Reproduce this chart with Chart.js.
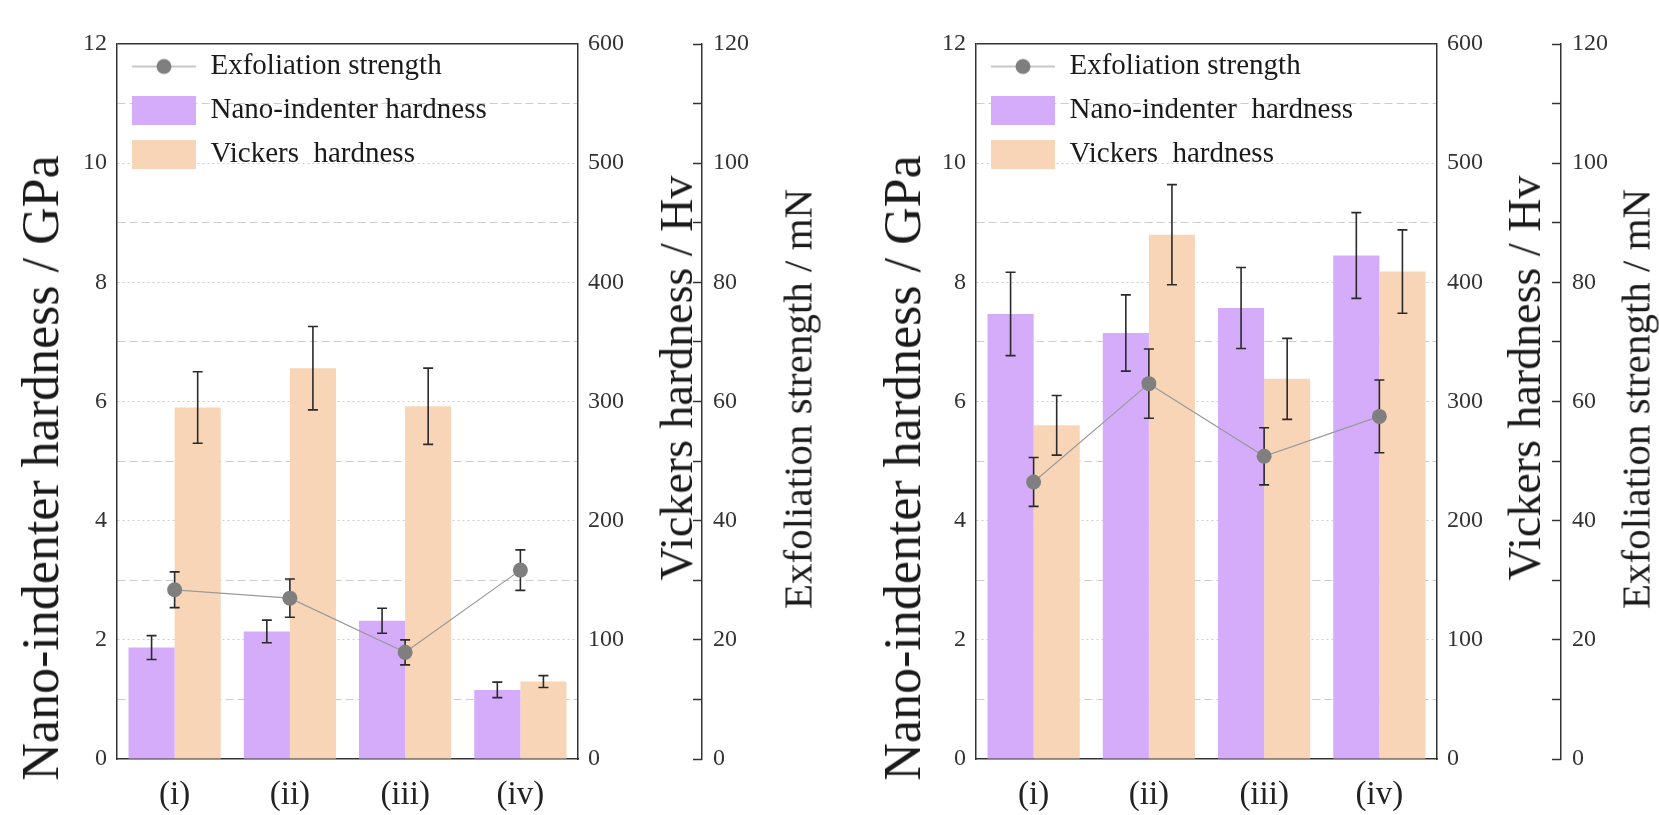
<!DOCTYPE html>
<html lang="en">
<head>
<meta charset="UTF-8">
<title>Hardness and exfoliation strength</title>
<script src="https://cdn.jsdelivr.net/npm/chart.js@4"></script>
<style>
    html, body {
        margin: 0;
        padding: 0;
        background: #ffffff;
    }
    body {
        position: relative;
        width: 1659px;
        height: 815px;
        overflow: hidden;
        font-family: 'Liberation Serif', 'Times New Roman', serif;
    }
    canvas {
        position: absolute;
        top: 0;
    }
    #chartA { left: 0; }
    #chartB { left: 859px; }
    /* rotated axis titles, centre given by left/top */
    .axis-title {
        position: absolute;
        white-space: pre;
        line-height: 1;
        color: #1a1a1a;
        transform: translate(-50%, -50%) rotate(-90deg);
    }
</style>
</head>
<body>
<canvas id="chartA" width="800" height="815"></canvas>
<canvas id="chartB" width="800" height="815"></canvas>

<div class="axis-title" style="left:41px; top:468px; font-size:52px;">Nano-indenter hardness / GPa</div>
<div class="axis-title" style="left:677px; top:378px; font-size:46px;">Vickers hardness / Hv</div>
<div class="axis-title" style="left:798px; top:399px; font-size:41px;">Exfoliation strength / mN</div>
<div class="axis-title" style="left:903px; top:468px; font-size:52px;">Nano-indenter hardness / GPa</div>
<div class="axis-title" style="left:1525px; top:378px; font-size:46px;">Vickers hardness / Hv</div>
<div class="axis-title" style="left:1636px; top:399px; font-size:41px;">Exfoliation strength / mN</div>

<script>
    // categories
    const categories = ['(i)', '(ii)', '(iii)', '(iv)'];

    // left panel
    const nanoA = [1.87, 2.14, 2.32, 1.16];          // GPa
    const nanoErrA = [0.20, 0.19, 0.21, 0.13];
    const vickersA = [295, 328, 296, 65];            // Hv
    const vickersErrA = [30, 35, 32, 5];
    const exfolA = [28.4, 27.0, 17.9, 31.7];         // mN
    const exfolErrA = [3.0, 3.2, 2.1, 3.4];
    const legendA = ['Exfoliation strength', 'Nano-indenter hardness', 'Vickers  hardness'];

    // right panel
    const nanoB = [7.47, 7.15, 7.57, 8.45];
    const nanoErrB = [0.70, 0.64, 0.68, 0.72];
    const vickersB = [280, 440, 319, 409];
    const vickersErrB = [25, 42, 34, 35];
    const exfolB = [46.5, 63.0, 50.8, 57.5];
    const exfolErrB = [4.1, 5.8, 4.8, 6.1];
    const legendB = ['Exfoliation strength', 'Nano-indenter  hardness', 'Vickers  hardness'];

    // axis ranges (min, max, minor step, labelled step)
    const gpaAxis = [0, 12, 1, 2];
    const hvAxis = [0, 600, 50, 100];
    const mnAxis = [0, 120, 10, 20];

    const SERIF = "'Liberation Serif', 'Times New Roman', serif";
    const AXIS_COLOR = '#333333';
    const PURPLE = '#d5acfa';
    const PEACH = '#f8d5b7';

    // legend symbol for the line series: line with a round marker
    function lineIcon() {
        const c = document.createElement('canvas');
        c.width = 64;
        c.height = 18;
        const g = c.getContext('2d');
        g.strokeStyle = '#8f8f8f';
        g.lineWidth = 1.2;
        g.beginPath();
        g.moveTo(0, 9);
        g.lineTo(64, 9);
        g.stroke();
        g.fillStyle = '#7f7f7f';
        g.beginPath();
        g.arc(32, 9, 7.5, 0, Math.PI * 2);
        g.fill();
        return c;
    }
    const exfolIcon = lineIcon();

    // error bars, drawn from the dataset's own scale
    function drawErrors(chart, index) {
        const ds = chart.data.datasets[index];
        if (!ds.errors) return;
        const meta = chart.getDatasetMeta(index);
        const scale = chart.scales[meta.yAxisID];
        const ctx = chart.ctx;
        ctx.save();
        ctx.strokeStyle = '#2a2a2a';
        ctx.lineWidth = 1.6;
        meta.data.forEach((el, j) => {
            const top = scale.getPixelForValue(ds.data[j] + ds.errors[j]);
            const bot = scale.getPixelForValue(ds.data[j] - ds.errors[j]);
            ctx.beginPath();
            ctx.moveTo(el.x, top);
            ctx.lineTo(el.x, bot);
            ctx.moveTo(el.x - 5, top);
            ctx.lineTo(el.x + 5, top);
            ctx.moveTo(el.x - 5, bot);
            ctx.lineTo(el.x + 5, bot);
            ctx.stroke();
        });
        ctx.restore();
    }

    const errorBars = {
        id: 'errorBars',
        beforeDatasetDraw(chart, args) {
            if (chart.data.datasets[args.index].type === 'line') drawErrors(chart, args.index);
        },
        afterDatasetDraw(chart, args) {
            if (chart.data.datasets[args.index].type !== 'line') drawErrors(chart, args.index);
        }
    };

    function tickFont() {
        return { family: SERIF, size: 24 };
    }

    function makeChart(canvasId, nano, nanoErr, vickers, vickersErr, exfol, exfolErr, legendText) {
        const ctx = document.getElementById(canvasId).getContext('2d');
        return new Chart(ctx, {
            type: 'bar',
            data: {
                labels: categories,
                datasets: [
                    {
                        type: 'line',
                        label: legendText[0],
                        data: exfol,
                        errors: exfolErr,
                        yAxisID: 'y2',
                        borderColor: '#9a9a9a',
                        borderWidth: 1.2,
                        pointRadius: 7.5,
                        pointBackgroundColor: '#7f7f7f',
                        pointBorderWidth: 0,
                        order: 0
                    },
                    {
                        label: legendText[1],
                        data: nano,
                        errors: nanoErr,
                        yAxisID: 'y',
                        backgroundColor: PURPLE,
                        categoryPercentage: 0.8,
                        barPercentage: 1.0,
                        order: 1
                    },
                    {
                        label: legendText[2],
                        data: vickers,
                        errors: vickersErr,
                        yAxisID: 'y1',
                        backgroundColor: PEACH,
                        categoryPercentage: 0.8,
                        barPercentage: 1.0,
                        order: 1
                    }
                ]
            },
            options: {
                responsive: false,
                animation: false,
                devicePixelRatio: 1,
                layout: { padding: { top: 44, bottom: 0, left: 0, right: 0 } },
                plugins: {
                    tooltip: { enabled: false },
                    legend: {
                        position: 'chartArea',
                        align: 'start',
                        // empty title only pushes the entries down inside the plot
                        title: {
                            display: true,
                            text: ' ',
                            font: { size: 10, lineHeight: 1 },
                            padding: { top: 13, bottom: 14 }
                        },
                        labels: {
                            usePointStyle: true,
                            pointStyleWidth: 64,
                            boxHeight: 30,
                            padding: 15,
                            color: '#1a1a1a',
                            font: { family: SERIF, size: 29 },
                            generateLabels(chart) {
                                const items = Chart.defaults.plugins.legend.labels.generateLabels(chart);
                                items.forEach(it => {
                                    const ds = chart.data.datasets[it.datasetIndex];
                                    it.pointStyle = ds.type === 'line' ? exfolIcon : 'rect';
                                    it.lineWidth = 0;
                                    it.strokeStyle = 'rgba(0,0,0,0)';
                                    if (ds.type !== 'line') it.fillStyle = ds.backgroundColor;
                                });
                                return items;
                            }
                        }
                    }
                },
                scales: {
                    x: {
                        z: 1,
                        grid: { display: false, drawTicks: false },
                        border: { color: AXIS_COLOR, width: 1.5 },
                        ticks: { font: { family: SERIF, size: 33 }, color: '#222', padding: 17 },
                        afterFit: s => { s.height = 56; }
                    },
                    y: {
                        position: 'left',
                        min: gpaAxis[0],
                        max: gpaAxis[1],
                        ticks: {
                            stepSize: gpaAxis[2],
                            autoSkip: false,
                            padding: 10,
                            color: AXIS_COLOR,
                            font: tickFont(),
                            callback: v => (v % gpaAxis[3] === 0 ? v : '')
                        },
                        grid: {
                            drawTicks: false,
                            color: c => {
                                if (!c.tick) return '#cccccc';
                                if (c.tick.value === gpaAxis[1]) return AXIS_COLOR;
                                if (c.tick.value === 0) return 'rgba(0,0,0,0)';
                                return '#cdcdcd';
                            },
                            lineWidth: c => (c.tick && c.tick.value === gpaAxis[1] ? 1.5 : 1)
                        },
                        border: {
                            color: AXIS_COLOR,
                            width: 1.5,
                            dash: c => {
                                if (!c.tick || c.tick.value === gpaAxis[1]) return [];
                                return c.tick.value % 2 ? [8, 4] : [2, 3];
                            }
                        },
                        afterFit: s => { s.width = 117; }
                    },
                    y1: {
                        position: 'right',
                        min: hvAxis[0],
                        max: hvAxis[1],
                        ticks: {
                            stepSize: hvAxis[2],
                            autoSkip: false,
                            padding: 10,
                            color: AXIS_COLOR,
                            font: tickFont(),
                            callback: v => (v % hvAxis[3] === 0 ? v : '')
                        },
                        grid: { drawOnChartArea: false, drawTicks: false },
                        border: { color: AXIS_COLOR, width: 1.5 },
                        afterFit: s => { s.width = 115; }
                    },
                    // tick marks of the exfoliation axis, sitting on the left of its line
                    yt: {
                        position: 'right',
                        min: mnAxis[0],
                        max: mnAxis[1],
                        ticks: { display: false, stepSize: mnAxis[2] },
                        grid: {
                            drawOnChartArea: false,
                            drawTicks: true,
                            tickLength: 9,
                            tickColor: AXIS_COLOR,
                            tickWidth: 1.5
                        },
                        border: { display: false },
                        afterFit: s => { s.width = 9; }
                    },
                    y2: {
                        position: 'right',
                        min: mnAxis[0],
                        max: mnAxis[1],
                        ticks: {
                            stepSize: mnAxis[2],
                            autoSkip: false,
                            padding: 11,
                            color: AXIS_COLOR,
                            font: tickFont(),
                            callback: v => (v % mnAxis[3] === 0 ? v : '')
                        },
                        grid: { drawOnChartArea: false, drawTicks: false },
                        border: { color: AXIS_COLOR, width: 1.5 },
                        afterFit: s => { s.width = 98; }
                    }
                }
            },
            plugins: [errorBars]
        });
    }

    makeChart('chartA', nanoA, nanoErrA, vickersA, vickersErrA, exfolA, exfolErrA, legendA);
    makeChart('chartB', nanoB, nanoErrB, vickersB, vickersErrB, exfolB, exfolErrB, legendB);
</script>
</body>
</html>
